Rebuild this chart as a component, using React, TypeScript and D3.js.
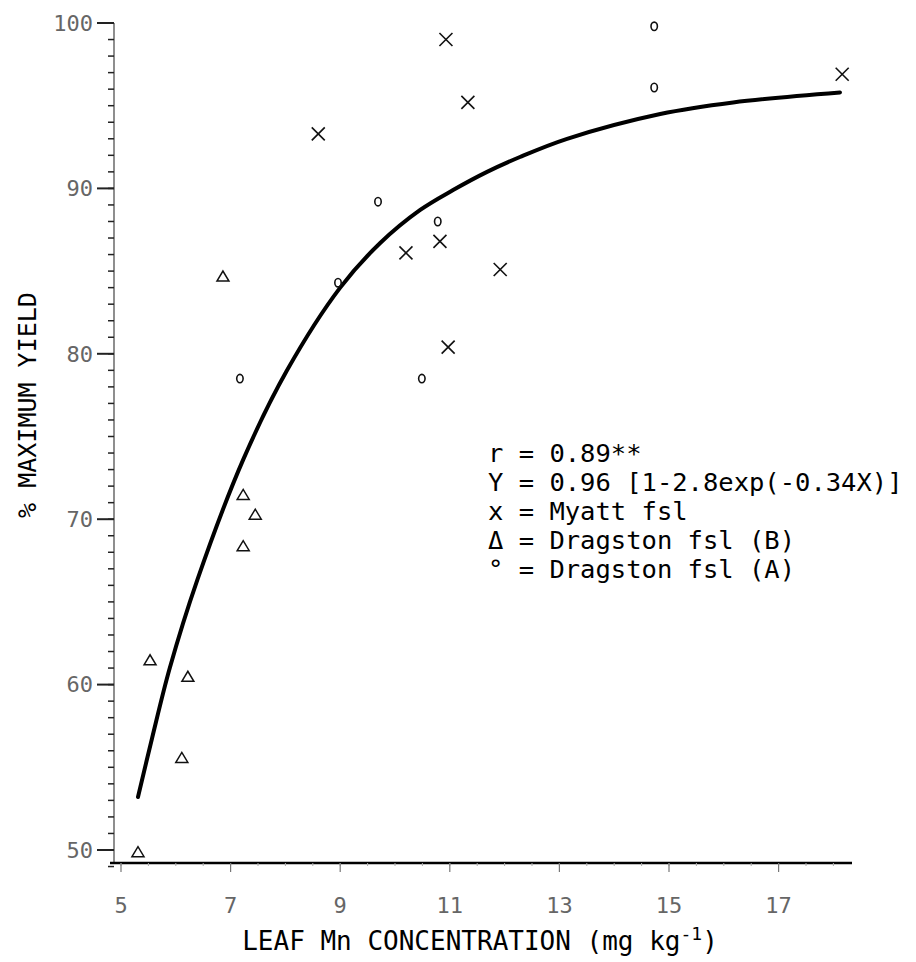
import React from 'react';
import * as d3 from 'd3';

// data
const myatt: [number, number][] = [
  [10.93, 99.0], [11.33, 95.2], [8.6, 93.3], [18.16, 96.9],
  [10.2, 86.1], [10.82, 86.8], [11.92, 85.1], [10.97, 80.4],
];
const dragstonA: [number, number][] = [
  [14.73, 99.8], [14.73, 96.1], [9.69, 89.2], [10.78, 88.0],
  [8.96, 84.3], [7.17, 78.5], [10.49, 78.5],
];
const dragstonB: [number, number][] = [
  [6.86, 84.7], [7.23, 71.5], [7.45, 70.3], [7.23, 68.4],
  [5.53, 61.5], [6.22, 60.5], [6.11, 55.6], [5.31, 49.9],
];
// fitted curve
const fitCurve: [number, number][] = [
  [5.31, 53.2], [5.57, 56.8], [5.89, 61.0], [6.39, 66.3], [7.23, 73.6],
  [8.03, 79.0], [9.0, 84.0], [9.73, 86.7], [10.46, 88.7], [11.06, 89.9],
  [11.68, 91.0], [12.28, 91.9], [13.14, 93.0], [14.84, 94.5], [16.17, 95.2],
  [18.12, 95.8],
];
const xTicks = [5, 7, 9, 11, 13, 15, 17];
const yTicks = [50, 60, 70, 80, 90, 100];
const legendLines = [
  'r = 0.89**',
  'Y = 0.96 [1-2.8exp(-0.34X)]',
  'x = Myatt fsl',
  '\u0394 = Dragston fsl (B)',
  '\u00b0 = Dragston fsl (A)',
];

const W = 916;
const H = 962;
const mono = '"DejaVu Sans Mono", "Liberation Mono", monospace';

export default function App() {
  const x = d3.scaleLinear().domain([5, 17]).range([121, 778.6]);
  const y = d3.scaleLinear().domain([50, 100]).range([850, 23]);

  const xAxisY = 863;
  const yAxisX = 114;

  const line = d3.line<[number, number]>()
    .x(d => x(d[0]))
    .y(d => y(d[1]))
    .curve(d3.curveCatmullRom);

  const yMinor = d3.range(49, 101, 1);
  const xMinor = d3.range(5, 18.5, 0.5);

  return (
    <svg width={W} height={H} style={{ position: 'absolute', left: 0, top: 0, background: '#fff' }}>
      {/* y axis */}
      <line x1={yAxisX} x2={yAxisX} y1={y(100)} y2={xAxisY} stroke="#444" strokeWidth={1.2} />
      {yMinor.map(v => (
        <line key={'ym' + v} x1={yAxisX - 6} x2={yAxisX} y1={y(v)} y2={y(v)} stroke="#222" strokeWidth={1.5} />
      ))}
      {yTicks.map(v => (
        <g key={'y' + v}>
          <line x1={yAxisX - 17} x2={yAxisX} y1={y(v)} y2={y(v)} stroke="#222" strokeWidth={2} />
          <text x={93} y={y(v)} dy="0.35em" textAnchor="end" fontFamily={mono} fontSize={22} fill="#666">
            {v}
          </text>
        </g>
      ))}

      {/* x axis */}
      <line x1={110} x2={852} y1={xAxisY} y2={xAxisY} stroke="#000" strokeWidth={2.5} />
      {xMinor.map(v => (
        <line key={'xm' + v} x1={x(v)} x2={x(v)} y1={xAxisY} y2={xAxisY + 3} stroke="#aaa" strokeWidth={1} />
      ))}
      {xTicks.map(v => (
        <g key={'x' + v}>
          <line x1={x(v)} x2={x(v)} y1={xAxisY} y2={xAxisY + 9} stroke="#777" strokeWidth={1.2} />
          <text x={x(v)} y={905} dy="0.35em" textAnchor="middle" fontFamily={mono} fontSize={22} fill="#666">
            {v}
          </text>
        </g>
      ))}

      {/* fitted curve */}
      <path d={line(fitCurve) || ''} fill="none" stroke="#000" strokeWidth={4} strokeLinecap="round" />

      {/* Myatt: crosses */}
      {myatt.map((d, i) => (
        <g key={'m' + i} transform={`translate(${x(d[0])},${y(d[1])})`} stroke="#111" strokeWidth={1.6}>
          <line x1={-6.5} y1={-6.5} x2={6.5} y2={6.5} />
          <line x1={-6.5} y1={6.5} x2={6.5} y2={-6.5} />
        </g>
      ))}

      {/* Dragston A: circles */}
      {dragstonA.map((d, i) => (
        <ellipse key={'a' + i} cx={x(d[0])} cy={y(d[1])} rx={3.2} ry={4.2} fill="none" stroke="#111" strokeWidth={1.6} />
      ))}

      {/* Dragston B: triangles */}
      {dragstonB.map((d, i) => (
        <path
          key={'b' + i}
          transform={`translate(${x(d[0])},${y(d[1])})`}
          d="M-6,5 L0,-5 L6,5 Z"
          fill="none"
          stroke="#111"
          strokeWidth={1.5}
        />
      ))}

      {/* legend / equation */}
      {legendLines.map((t, i) => (
        <text key={'l' + i} x={488} y={462 + i * 29} fontFamily={mono} fontSize={25.5} fill="#000">
          {t}
        </text>
      ))}

      {/* axis titles */}
      <text
        transform={`translate(36,405) rotate(-90)`}
        textAnchor="middle"
        fontFamily={mono}
        fontSize={25}
        fill="#000"
      >
        % MAXIMUM YIELD
      </text>
      <text x={480} y={950} textAnchor="middle" fontFamily={mono} fontSize={26} fill="#000">
        LEAF Mn CONCENTRATION (mg kg
        <tspan dy={-10} fontSize={18}>-1</tspan>
        <tspan dy={10}>)</tspan>
      </text>
    </svg>
  );
}
